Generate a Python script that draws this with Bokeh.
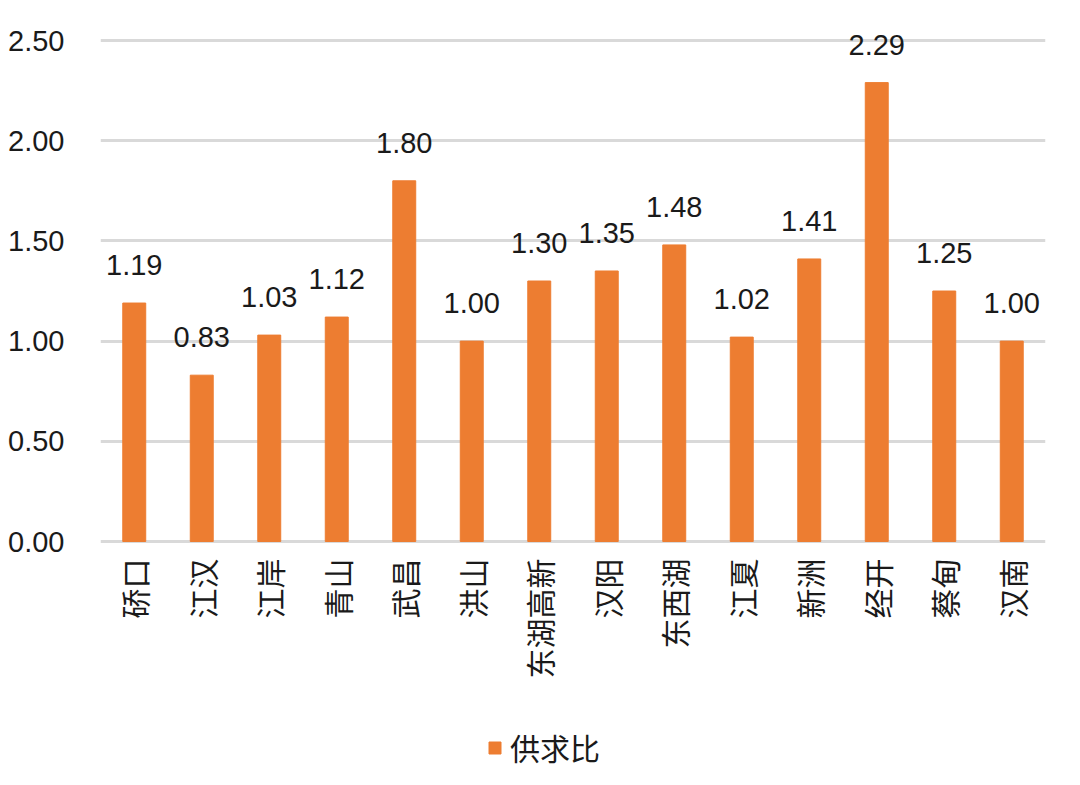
from bokeh.plotting import figure
from bokeh.models import ColumnDataSource, Range1d, Legend, LegendItem, FixedTicker, CustomJSTickFormatter
from bokeh.core.properties import value
from bokeh.embed import file_html
from bokeh.resources import INLINE
import math

districts = ["硚口", "江汉", "江岸", "青山", "武昌", "洪山", "东湖高新", "汉阳", "东西湖", "江夏", "新洲", "经开", "蔡甸", "汉南"]
ratios = [1.19, 0.83, 1.03, 1.12, 1.80, 1.00, 1.30, 1.35, 1.48, 1.02, 1.41, 2.29, 1.25, 1.00]
labels = ["%.2f" % v for v in ratios]
y_ticks = [0, 0.5, 1.0, 1.5, 2.0, 2.5]
series_name = "供求比"

src = ColumnDataSource(dict(x=districts, top=ratios, label=labels, base=[0] * len(districts)))

# frame spans down to the canvas bottom; value axis 0 sits at y=541
p = figure(x_range=districts, y_range=Range1d(-1.2176, 2.6),
           frame_width=945, frame_height=765,
           output_backend="svg", toolbar_location=None,
           min_border_left=100, min_border_right=35, min_border_top=20, min_border_bottom=0)
p.outline_line_color = None
p.background_fill_color = "white"
p.border_fill_color = "white"

bars = p.vbar(x="x", top="top", width=0.34, source=src, color="#ED7D31")
p.text(x="x", y="top", text="label", source=src, text_align="center", text_baseline="middle",
       y_offset=-38, text_font=value("Liberation Sans"), text_font_size="29px", text_color="#1a1a1a")
# category labels, rotated like the reference
p.text(x="x", y="base", text="x", source=src, angle=math.pi / 2, text_align="right",
       text_baseline="middle", y_offset=17, text_font=value("Noto Sans CJK SC"),
       text_font_size="30px", text_color="#1a1a1a")

p.xaxis.visible = False
p.xgrid.grid_line_color = None
p.ygrid.grid_line_color = "#d9d9d9"
p.ygrid.grid_line_width = 3
p.yaxis.ticker = FixedTicker(ticks=y_ticks)
p.ygrid.ticker = FixedTicker(ticks=y_ticks)
p.yaxis.formatter = CustomJSTickFormatter(code="return tick.toFixed(2);")
ax = p.yaxis[0]
ax.axis_line_color = None
ax.major_tick_line_color = None
ax.minor_tick_line_color = None
p.yaxis.major_label_text_font = "Liberation Sans"
p.yaxis.major_label_text_font_size = "29px"
p.yaxis.major_label_text_color = "#1a1a1a"
p.yaxis.major_label_standoff = 30

legend = Legend(items=[LegendItem(label=series_name, renderers=[bars])],
                orientation="horizontal", location=(387, 16),
                label_text_font="Noto Sans CJK SC", label_text_font_size="30px",
                label_text_color="#1a1a1a", glyph_width=15, glyph_height=15,
                label_standoff=8, border_line_color=None, background_fill_alpha=0,
                margin=0, padding=0)
p.add_layout(legend, "center")

open("out.html", "w").write(file_html(p, INLINE))
